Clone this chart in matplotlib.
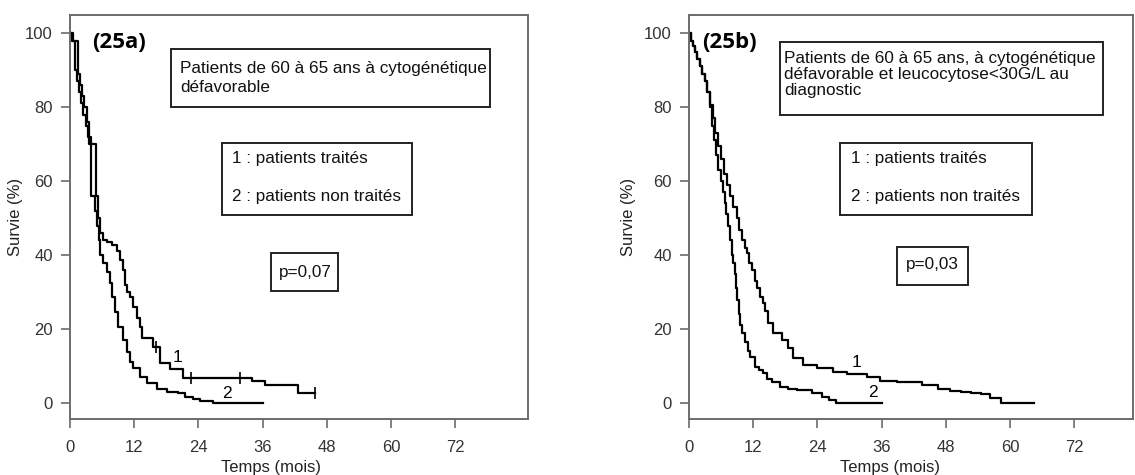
import numpy as np
import matplotlib.pyplot as plt
from matplotlib.patches import Rectangle

# ---- data (months, % survival) ----
xticks = [0, 12, 24, 36, 48, 60, 72]
yticks = [0, 20, 40, 60, 80, 100]

# panel (25a)
a_t_treated = [0, 0.5, 1.5, 1.9, 2.3, 2.7, 3.1, 3.5, 4.9, 5.3, 5.7, 6.2, 7.0, 7.8, 8.7,
               9.3, 9.9, 10.3, 10.6, 11.2, 11.8, 12.5, 13.1, 13.4, 15.6, 16.8, 18.7,
               21.1, 34.0, 36.4, 42.6, 45.8]
a_s_treated = [100, 98, 89, 86, 83, 80, 76, 70, 56, 50, 46, 44, 43.5, 42.7, 41,
               38.6, 36, 32, 30, 28.6, 26, 23, 20.5, 17.6, 15.1, 10.8, 9.2,
               6.8, 5.9, 4.9, 2.7, 2.7]
a_cens_t = [16.1, 22.6, 31.8, 45.8]
a_cens_s = [15.1, 6.8, 6.8, 2.7]

a_t_untreated = [0, 0.3, 0.9, 1.3, 1.7, 2.1, 2.5, 2.9, 3.3, 3.9, 4.6, 5.0, 5.4, 5.7,
                 6.2, 6.9, 7.5, 7.8, 8.4, 9.0, 9.9, 10.6, 11.2, 11.8, 13.1, 14.4,
                 16.2, 18.1, 20.2, 21.5, 23.0, 24.3, 26.7, 36]
a_s_untreated = [100, 98, 90, 87, 84, 81, 78, 75, 72, 56, 52, 48, 44, 40,
                 38, 35.5, 32.4, 28.6, 24.6, 20.5, 17, 13.8, 11, 9.5, 7, 5.4,
                 3.8, 3, 2.7, 1.6, 1.1, 0.6, 0, 0]

# panel (25b)
b_t_treated = [0, 0.3, 0.7, 1.1, 1.5, 2.0, 2.4, 2.9, 3.4, 3.9, 4.4, 4.9, 5.4, 6.0,
               6.6, 7.1, 7.7, 8.3, 8.9, 9.4, 9.9, 10.4, 10.8, 11.3, 11.8, 12.3,
               12.8, 13.3, 13.8, 14.2, 14.8, 15.7, 17.4, 18.5, 19.4, 21.3, 23.9,
               26.9, 29.5, 33.2, 35.7, 38.8, 43.5, 46.6, 48.8, 50.8, 52.8, 54.6,
               56.3, 58.4, 64.4]
b_s_treated = [100, 98, 96.5, 95, 93, 91, 89, 87, 84, 80.5, 77, 73, 69.5, 66,
               62, 59, 56, 53, 50, 46.8, 44, 42, 40.5, 38, 36, 33,
               31, 28.6, 27, 25, 21.6, 18.9, 17, 14.9, 12.2, 10.3, 9.5,
               8.4, 7.8, 7.1, 6.0, 5.8, 4.9, 3.7, 3.4, 3.0, 2.7, 2.4,
               1.3, 0, 0]

b_t_untreated = [0, 0.3, 0.7, 1.1, 1.5, 2.0, 2.4, 2.9, 3.4, 3.9, 4.3, 4.7, 5.1, 5.5,
                 5.9, 6.3, 6.7, 7.0, 7.3, 7.6, 8.0, 8.3, 8.6, 8.8, 9.0, 9.3, 9.5,
                 10.0, 10.5, 11.0, 11.4, 12.3, 13.0, 13.8, 14.6, 15.5, 17.0, 18.6,
                 20.2, 23.0, 24.9, 26.2, 27.5, 36]
b_s_untreated = [100, 98, 96.5, 95, 93, 91, 89, 87, 84, 80, 75, 71, 67, 63,
                 60, 57, 54, 51, 48, 44, 40, 37.8, 35, 31, 28, 24, 21,
                 19, 16.5, 14, 12.4, 9.7, 9, 8, 6.6, 5.7, 4.3, 3.8,
                 3.5, 2.7, 1.6, 0.8, 0, 0]

W, H = 1135, 475
plt.rcParams['font.family'] = ['Liberation Sans', 'DejaVu Sans']

fig = plt.figure(figsize=(W / 100, H / 100), dpi=100)


def fig_xy(x, y):
    return x / W, 1 - y / H


def add_box(x0, y0, x1, y1):
    fig.add_artist(Rectangle(fig_xy(x0, y1), (x1 - x0) / W, (y1 - y0) / H,
                             transform=fig.transFigure, fill=False,
                             edgecolor='#222222', linewidth=1.4))


def fig_label(x, y, s, **kw):
    fx, fy = fig_xy(x, y)
    fig.text(fx, fy, s, fontsize=12.3, color='#111111', va='center', **kw)


def make_panel(left_px, right_px, xmax, xlab_x, ylab_x):
    ax = fig.add_axes([left_px / W, 1 - 419 / H, (right_px - left_px) / W, (419 - 15) / H])
    ax.set_xlim(0, xmax)
    ax.set_ylim(-4.3, 104.9)
    ax.set_xticks(xticks)
    ax.set_yticks(yticks)
    for sp in ax.spines.values():
        sp.set_color('#6b6b6b')
        sp.set_linewidth(1.4)
    ax.tick_params(direction='out', length=6.5, width=1.2, color='#6b6b6b',
                   labelsize=12, labelcolor='#333333')
    ax.tick_params(axis='x', pad=8.5)
    ax.tick_params(axis='y', pad=5.8)
    ax.set_xlabel('Temps (mois)', fontsize=12, color='#222222')
    ax.set_ylabel('Survie (%)', fontsize=12, color='#222222')
    ax.xaxis.set_label_coords(xlab_x, -0.102)
    ax.yaxis.set_label_coords(ylab_x, 0.5)
    return ax


ax1 = make_panel(70, 528, 85.6, 0.438, -0.103)
ax1.plot(a_t_treated, a_s_treated, drawstyle='steps-post', color='black', lw=1.6)
ax1.plot(a_t_untreated, a_s_untreated, drawstyle='steps-post', color='black', lw=1.6)
ax1.plot(a_cens_t, a_cens_s, ls='none', marker='|', ms=8, mew=1.2, color='black')
ax1.text(20, 12.4, '1', fontsize=12.5, ha='center', va='center')
ax1.text(29.3, 2.7, '2', fontsize=12.5, ha='center', va='center')

ax2 = make_panel(689, 1133, 83, 0.453, -0.119)
ax2.plot(b_t_treated, b_s_treated, drawstyle='steps-post', color='black', lw=1.6)
ax2.plot(b_t_untreated, b_s_untreated, drawstyle='steps-post', color='black', lw=1.6)
ax2.text(31.4, 11, '1', fontsize=12.5, ha='center', va='center')
ax2.text(34.4, 2.8, '2', fontsize=12.5, ha='center', va='center')

# annotation boxes, panel a
add_box(171, 49, 490, 107)
fig_label(180, 68, 'Patients de 60 à 65 ans à cytogénétique')
fig_label(180, 88, 'défavorable')
add_box(222, 143, 412, 215)
fig_label(232, 158, '1 : patients traités')
fig_label(232, 197, '2 : patients non traités')
add_box(271, 253, 338, 291)
fig_label(305, 272, 'p=0,07', ha='center')

# annotation boxes, panel b
add_box(780, 42, 1103, 115)
fig_label(784, 58, 'Patients de 60 à 65 ans, à cytogénétique')
fig_label(784, 74.5, 'défavorable et leucocytose<30G/L au')
fig_label(784, 90, 'diagnostic')
add_box(840, 143, 1032, 215)
fig_label(851, 158, '1 : patients traités')
fig_label(851, 197, '2 : patients non traités')
add_box(897, 247, 968, 285)
fig_label(932, 264, 'p=0,03', ha='center')

# panel tags
for x, tag in [(92, '(25a)'), (702, '(25b)')]:
    fx, fy = fig_xy(x, 42)
    fig.text(fx, fy, tag, fontsize=16, fontweight='bold', family='Open Sans',
             va='center', ha='left', color='black')

fig.savefig('out.png', dpi=100)
